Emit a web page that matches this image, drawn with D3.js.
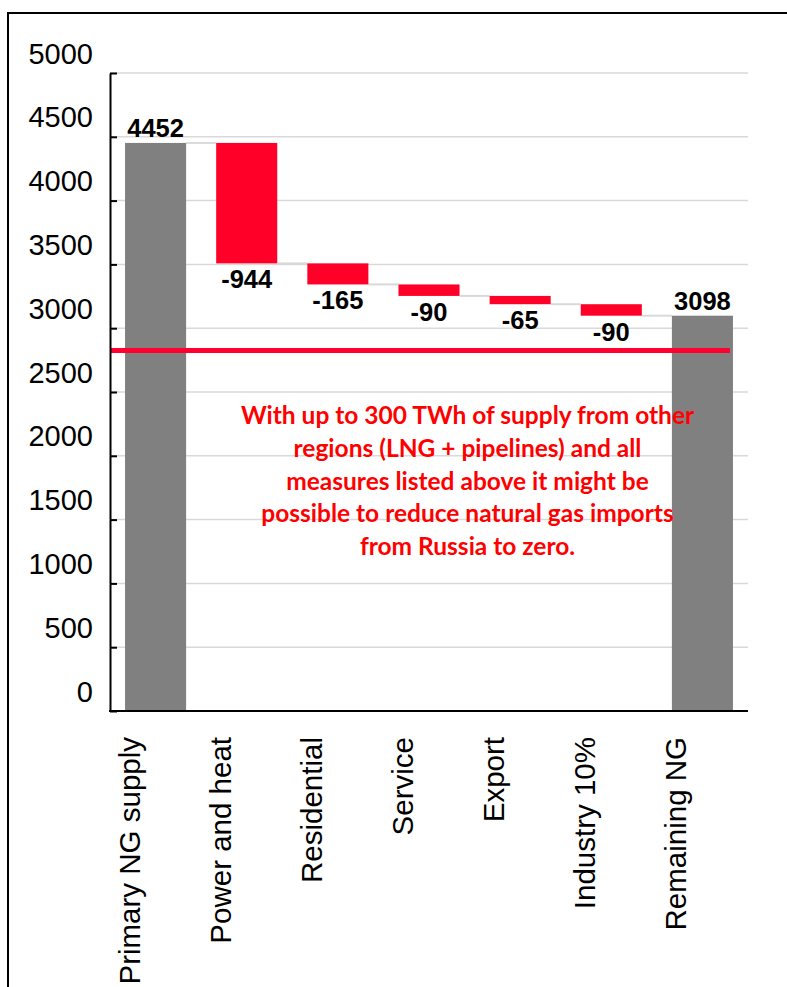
<!DOCTYPE html>
<html><head><meta charset="utf-8">
<script src="https://cdn.jsdelivr.net/npm/d3@7"></script>
<style>body{margin:0;background:#fff}svg{display:block}</style>
</head><body>
<svg id="c" width="787" height="987"></svg>
<script>
const categories = ["Primary NG supply","Power and heat","Residential","Service","Export","Industry 10%","Remaining NG"];
const values = [4452, -944, -165, -90, -65, -90, 3098];
const isTotal = [true, false, false, false, false, false, true];
const yTicks = [0,500,1000,1500,2000,2500,3000,3500,4000,4500,5000];
const thresholdValue = 2825;
const noteLines = [
  "With up to 300 TWh of supply from other",
  "regions (LNG + pipelines) and all",
  "measures listed above it might be",
  "possible to reduce natural gas imports",
  "from Russia to zero."
];

const svg = d3.select("#c");
// outer frame
svg.append("rect").attr("x",8).attr("y",13).attr("width",900).attr("height",1100)
  .attr("fill","none").attr("stroke","#000").attr("stroke-width",2);

const x = d3.scaleBand().domain(categories).range([110,748]).paddingInner(0.33).paddingOuter(0.165);
const y = d3.scaleLinear().domain([0,5000]).range([711,73]);

// compute waterfall
let run = 0;
const bars = categories.map((c,i)=>{
  let lo, hi, end;
  if (isTotal[i]) { lo = 0; hi = values[i]; end = values[i]; }
  else { const s = run; end = run + values[i]; lo = Math.min(s,end); hi = Math.max(s,end); }
  run = end;
  return {c, v: values[i], lo, hi, end, total: isTotal[i]};
});

// gridlines
svg.append("g").selectAll("line").data(yTicks.filter(d=>d>0)).join("line")
  .attr("x1",110).attr("x2",748).attr("y1",d=>y(d)).attr("y2",d=>y(d))
  .attr("stroke","#d9d9d9").attr("stroke-width",1.5);

// connectors
svg.append("g").selectAll("line").data(bars.slice(0,-1)).join("line")
  .attr("x1",(d)=>x(d.c)+x.bandwidth())
  .attr("x2",(d,i)=>x(categories[i+1]))
  .attr("y1",d=>y(d.end)).attr("y2",d=>y(d.end))
  .attr("stroke","#d9d9d9").attr("stroke-width",2);

// bars
svg.append("g").selectAll("rect").data(bars).join("rect")
  .attr("x",d=>x(d.c)).attr("width",x.bandwidth())
  .attr("y",d=>y(d.hi)).attr("height",d=>y(d.lo)-y(d.hi))
  .attr("fill",d=>d.total?"#808080":"#ff0028");

// threshold line
svg.append("line").attr("x1",111).attr("x2",x("Remaining NG")+x.bandwidth()-3)
  .attr("y1",y(thresholdValue)).attr("y2",y(thresholdValue))
  .attr("stroke","#ff0030").attr("stroke-width",5);

// value labels
svg.append("g").selectAll("text").data(bars).join("text")
  .attr("x",d=>x(d.c)+x.bandwidth()/2)
  .attr("y",d=>d.total? y(d.hi)-6 : y(d.lo)+25)
  .attr("text-anchor","middle")
  .attr("font-family","'Liberation Sans', Arial, sans-serif")
  .attr("font-weight","bold").attr("font-size",25.5).attr("fill","#000")
  .text(d=>d.v);

// y axis
const ya = svg.append("g").attr("transform","translate(110,0)")
  .call(d3.axisLeft(y).tickValues(yTicks).tickSizeInner(-7).tickSizeOuter(0).tickFormat(d3.format("d")));
ya.select(".domain").attr("stroke","#000").attr("stroke-width",2);
ya.selectAll(".tick line").attr("stroke","#000").attr("stroke-width",2);
ya.selectAll(".tick text").attr("x",-17).attr("dy","0.35em").attr("transform","translate(0,-20)")
  .attr("font-family","'Liberation Sans', Arial, sans-serif").attr("font-size",29).attr("fill","#000");

// x axis
const xa = svg.append("g").attr("transform","translate(0,711)")
  .call(d3.axisBottom(x).tickSize(0).tickSizeOuter(0));
xa.select(".domain").attr("d","M109,0H748").attr("stroke","#000").attr("stroke-width",2);
xa.selectAll(".tick text")
  .attr("transform","translate(-16,26) rotate(-90)")
  .attr("x",0).attr("y",0).attr("dy",0)
  .attr("text-anchor","end")
  .attr("font-family","'Liberation Sans', Arial, sans-serif").attr("font-size",29.5).attr("fill","#000");

// annotation
svg.append("text").attr("text-anchor","middle")
  .attr("font-family","Lato, 'Open Sans', sans-serif").attr("font-weight","bold")
  .attr("font-size",24.5).attr("fill","#ff0000")
  .selectAll("tspan").data(noteLines).join("tspan")
  .attr("x",467.5).attr("y",(d,i)=>424+i*32.8).text(d=>d);
</script>
</body></html>
